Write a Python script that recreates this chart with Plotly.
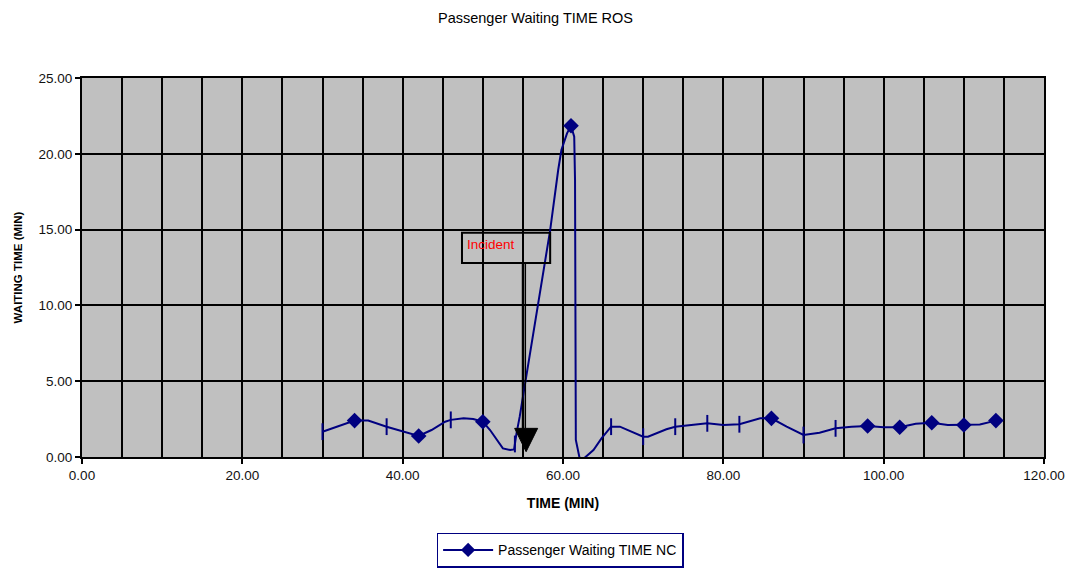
import plotly.graph_objects as go

# Waiting-time curve (minutes vs minutes)
time_min = [30, 34, 35.7, 38, 42, 43.6, 45.3, 46, 47.6, 48.8, 50, 50.9, 52.5, 53.4, 53.9, 54, 54.2,
            54.6, 58.4, 59.4, 59.8, 60.5, 61, 61.4, 61.5, 61.6, 61.8, 62.1, 62.7, 63.8, 64.8,
            66, 67.1, 70, 70.6, 72.9, 74, 78, 80, 82, 84.6, 86, 87.9, 90, 92, 94, 96, 98,
            100, 102, 104, 106, 108, 110, 112, 114]
wait_min = [1.67, 2.40, 2.40, 2.0, 1.39, 1.78, 2.33, 2.45, 2.55, 2.5, 2.33, 1.78, 0.57, 0.46, 0.5, 0.86, 1.56,
            2.66, 14.97, 18.93, 20.25, 21.35, 21.85, 21.13, 18.27, 1.12, 0.5, -0.15, -0.05, 0.46, 1.23,
            2.0, 2.0, 1.34, 1.34, 1.83, 2.0, 2.22, 2.11, 2.16, 2.55, 2.55, 2.0, 1.45, 1.6, 1.89, 2.0, 2.04,
            1.96, 1.96, 2.2, 2.26, 2.11, 2.11, 2.15, 2.40]

# Points drawn with diamond markers
diamond_t = [34, 42, 50, 61, 86, 98, 102, 106, 110, 114]
diamond_v = [2.40, 1.39, 2.33, 21.85, 2.55, 2.04, 1.96, 2.26, 2.11, 2.40]

# Points drawn with short vertical dash markers
dash_t = [30, 38, 46, 54, 66, 70, 74, 78, 82, 90, 94]
dash_v = [1.67, 2.0, 2.45, 0.86, 2.0, 1.34, 2.0, 2.22, 2.16, 1.45, 1.89]

x_ticks = [0, 20, 40, 60, 80, 100, 120]
y_ticks = [0, 5, 10, 15, 20, 25]

NAVY = "#000080"
FONT = "Arial, Liberation Sans, sans-serif"

fig = go.Figure()
fig.add_trace(go.Scatter(x=time_min, y=wait_min, mode="lines",
                         line=dict(color=NAVY, width=2), showlegend=False, hoverinfo="skip"))
fig.add_trace(go.Scatter(x=diamond_t, y=diamond_v, mode="markers",
                         marker=dict(symbol="diamond", size=12, color=NAVY), showlegend=False))
fig.add_trace(go.Scatter(x=dash_t, y=dash_v, mode="markers",
                         marker=dict(symbol="line-ns", size=12, color=NAVY,
                                     line=dict(color=NAVY, width=2)), showlegend=False))
# Legend entry
fig.add_trace(go.Scatter(x=[None], y=[None], mode="lines+markers", name="Passenger Waiting TIME NC",
                         line=dict(color=NAVY, width=2),
                         marker=dict(symbol="diamond", size=11, color=NAVY)))

# Incident label box and arrow
fig.add_shape(type="rect", x0=47.4, x1=58.4, y0=12.8, y1=14.8, xref="x", yref="y",
              line=dict(color="black", width=2), fillcolor="rgba(0,0,0,0)")
for xs in (54.95, 55.3):
    fig.add_shape(type="line", x0=xs, x1=xs, y0=12.8, y1=1.9, xref="x", yref="y",
                  line=dict(color="black", width=1.5))
fig.add_shape(type="path", path="M 53.97 1.89 L 56.84 1.89 L 55.4 0.35 Z", xref="x", yref="y",
              fillcolor="black", line=dict(color="black", width=1))
fig.add_annotation(x=47.8, y=14.05, xref="x", yref="y", text="Incident", showarrow=False,
                   xanchor="left", yanchor="middle", font=dict(family=FONT, size=13.5, color="red"))

fig.update_layout(
    width=1071, height=569,
    margin=dict(l=82, r=27, t=78, b=112, autoexpand=False),
    paper_bgcolor="white", plot_bgcolor="#C0C0C0",
    font=dict(family=FONT, size=13.5, color="black"),
    title=dict(text="Passenger Waiting TIME ROS", x=0.5, xanchor="center",
               y=1 - 18 / 569, yanchor="middle", font=dict(family=FONT, size=14.5, color="black")),
    legend=dict(orientation="h", x=0.497, xanchor="center", y=-0.2, yanchor="top",
                bordercolor=NAVY, borderwidth=1.5, bgcolor="white", itemwidth=50,
                font=dict(family=FONT, size=14, color="black")),
    showlegend=True,
)
fig.update_xaxes(range=[0, 120], tickvals=x_ticks, ticktext=[f"{v:.2f}" for v in x_ticks],
                 showgrid=True, gridcolor="black", gridwidth=2, automargin=False,
                 minor=dict(dtick=5, showgrid=True, gridcolor="black", gridwidth=2),
                 showline=True, linecolor="black", linewidth=2, mirror=True,
                 ticks="outside", ticklen=5, tickcolor="black", tickwidth=2, zeroline=False,
                 tickfont=dict(family=FONT, size=13.5, color="#111"),
                 title=dict(text="<b>TIME (MIN)</b>", font=dict(family=FONT, size=14, color="black"),
                            standoff=16))
fig.update_yaxes(range=[0, 25], tickvals=y_ticks, ticktext=[f"{v:.2f}" for v in y_ticks],
                 showgrid=True, gridcolor="black", gridwidth=2, automargin=False,
                 showline=True, linecolor="black", linewidth=2, mirror=True,
                 ticks="outside", ticklen=5, tickcolor="black", tickwidth=2, zeroline=False,
                 tickfont=dict(family=FONT, size=13.5, color="#111"),
                 title=dict(text="<b>WAITING TIME (MIN)</b>", font=dict(family=FONT, size=11.5, color="black"),
                            standoff=13))

fig.write_html("out.html")
